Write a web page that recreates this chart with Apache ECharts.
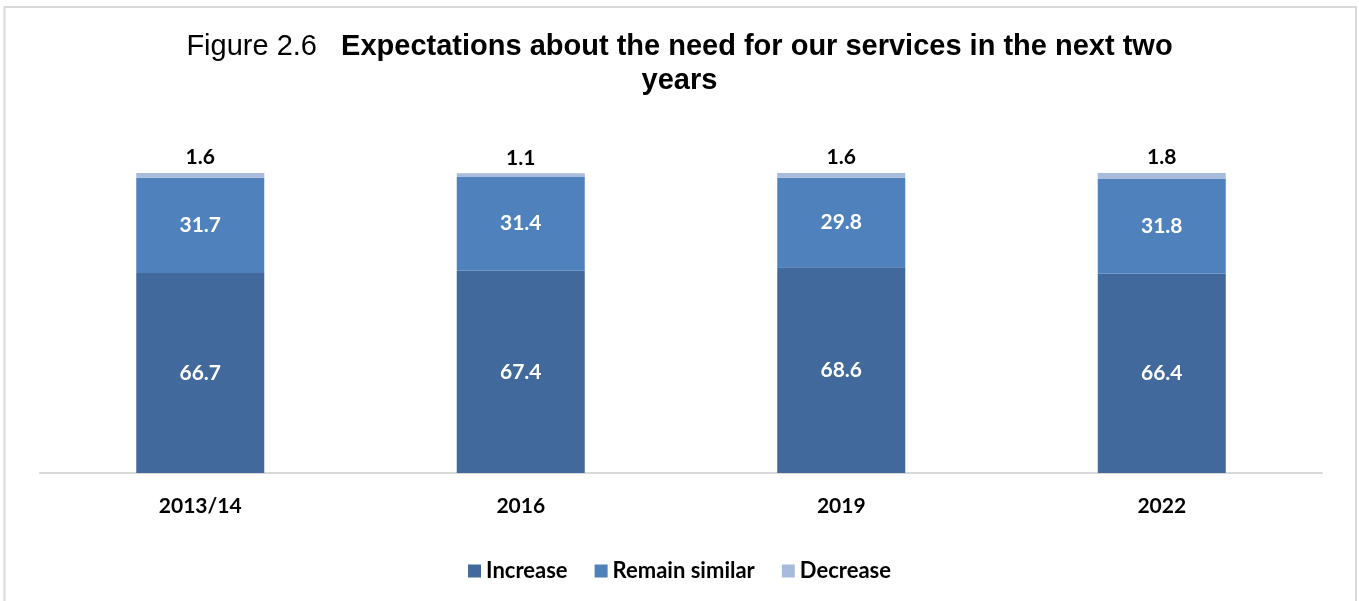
<!DOCTYPE html>
<html>
<head>
<meta charset="utf-8">
<style>
  html, body { margin: 0; padding: 0; background: #ffffff; }
  #chart { width: 1359px; height: 601px; }
</style>
<script src="https://cdn.jsdelivr.net/npm/echarts@6/dist/echarts.min.js"></script>
</head>
<body>
<div id="chart"></div>
<script>
// Survey waves and share of respondents (%) for each expectation
const categories = ['2013/14', '2016', '2019', '2022'];
const increase = [66.7, 67.4, 68.6, 66.4];
const remainSimilar = [31.7, 31.4, 29.8, 31.8];
const decrease = [1.6, 1.1, 1.6, 1.8];
const seriesNames = ['Increase', 'Remain similar', 'Decrease'];

const LABEL_FONT = 'Lato, "Open Sans", sans-serif';
const TITLE_FONT = '"Liberation Sans", Arial, sans-serif';
const COLORS = ['#41699B', '#4F81BD', '#A9BBDA'];

const chart = echarts.init(document.getElementById('chart'));

const insideLabel = {
  show: true,
  position: 'inside',
  color: '#ffffff',
  fontFamily: LABEL_FONT,
  fontWeight: 'bold',
  fontSize: 21,
  formatter: p => p.value.toFixed(1)
};

chart.setOption({
  animation: false,
  backgroundColor: '#ffffff',
  graphic: [{
    type: 'rect',
    shape: { x: 4.5, y: 7, width: 1351.5, height: 640 },
    style: { fill: 'none', stroke: '#D9D9D9', lineWidth: 2 },
    silent: true,
    z: -1
  }],
  title: {
    text: '{n|Figure 2.6   }{b|Expectations about the need for our services in the next two}\n{b|years}',
    left: 'center',
    top: 25,
    textStyle: {
      fontWeight: 'normal',
      lineHeight: 34,
      rich: {
        n: { fontFamily: TITLE_FONT, fontSize: 29, fontWeight: 'normal', color: '#000000', lineHeight: 34 },
        b: { fontFamily: TITLE_FONT, fontSize: 29, fontWeight: 'bold', color: '#000000', lineHeight: 34 }
      }
    }
  },
  legend: {
    data: seriesNames,
    bottom: 14,
    left: 'center',
    itemWidth: 13,
    itemHeight: 13,
    itemGap: 27,
    icon: 'rect',
    textStyle: {
      fontFamily: LABEL_FONT,
      fontWeight: 'bold',
      fontSize: 22,
      color: '#000000'
    }
  },
  grid: { left: 40, right: 37, top: 173, bottom: 128, containLabel: false },
  xAxis: {
    type: 'category',
    data: categories,
    axisLine: { show: true, lineStyle: { color: '#D9D9D9', width: 2 } },
    axisTick: { show: false },
    axisLabel: {
      margin: 23,
      color: '#000000',
      fontFamily: LABEL_FONT,
      fontWeight: 'bold',
      fontSize: 21
    }
  },
  yAxis: {
    type: 'value',
    min: 0,
    max: 100,
    show: false,
    splitLine: { show: false }
  },
  series: [
    {
      name: seriesNames[0],
      type: 'bar',
      stack: 'total',
      data: increase,
      barWidth: 128,
      itemStyle: { color: COLORS[0] },
      label: insideLabel
    },
    {
      name: seriesNames[1],
      type: 'bar',
      stack: 'total',
      data: remainSimilar,
      barWidth: 128,
      itemStyle: { color: COLORS[1] },
      label: insideLabel
    },
    {
      name: seriesNames[2],
      type: 'bar',
      stack: 'total',
      data: decrease,
      barWidth: 128,
      itemStyle: { color: COLORS[2] },
      label: {
        show: true,
        position: 'top',
        distance: 5,
        color: '#000000',
        fontFamily: LABEL_FONT,
        fontWeight: 'bold',
        fontSize: 21,
        formatter: p => p.value.toFixed(1)
      }
    }
  ]
});
</script>
</body>
</html>
